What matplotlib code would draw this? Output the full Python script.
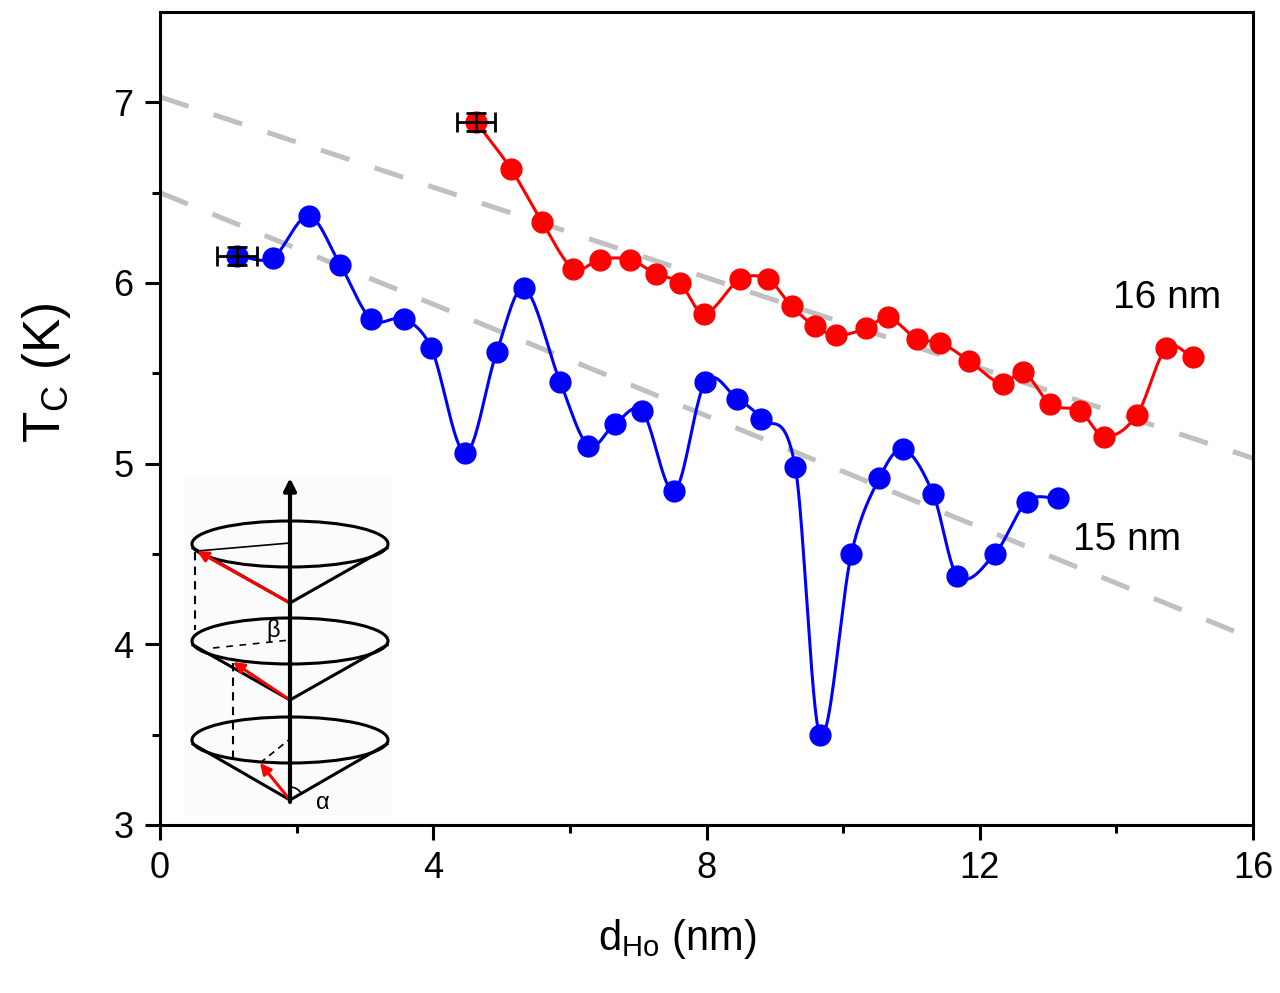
import numpy as np
import matplotlib
matplotlib.use('Agg')
import matplotlib.pyplot as plt
from matplotlib.patches import Ellipse, Arc

plt.rcParams['font.family'] = ['Liberation Sans', 'DejaVu Sans']
plt.rcParams['mathtext.fontset'] = 'custom'
plt.rcParams['mathtext.rm'] = 'Liberation Sans'
plt.rcParams['mathtext.it'] = 'Liberation Sans:italic'

# 15 nm series (blue)
d_15 = [1.13, 1.65, 2.18, 2.64, 3.09, 3.57, 3.97, 4.47, 4.93, 5.33, 5.86, 6.27, 6.66, 7.06,
        7.53, 7.98, 8.45, 8.80, 9.30, 9.66, 10.12, 10.53, 10.88, 11.32, 11.67, 12.22, 12.69, 13.15]
tc_15 = [6.15, 6.14, 6.37, 6.10, 5.80, 5.80, 5.64, 5.06, 5.62, 5.97, 5.45, 5.10, 5.22, 5.29,
         4.85, 5.45, 5.36, 5.25, 4.98, 3.50, 4.50, 4.92, 5.08, 4.83, 4.38, 4.50, 4.79, 4.81]

# 16 nm series (red)
d_16 = [4.63, 5.14, 5.59, 6.05, 6.44, 6.88, 7.26, 7.61, 7.96, 8.49, 8.90, 9.25, 9.59, 9.90,
        10.34, 10.66, 11.08, 11.42, 11.84, 12.34, 12.63, 13.03, 13.47, 13.82, 14.30, 14.73, 15.12]
tc_16 = [6.89, 6.63, 6.34, 6.08, 6.13, 6.13, 6.05, 6.00, 5.83, 6.02, 6.02, 5.87, 5.76, 5.71,
         5.75, 5.81, 5.69, 5.67, 5.57, 5.44, 5.51, 5.33, 5.29, 5.15, 5.27, 5.64, 5.59]

# error bars on the first point of each series
xerr_first = [0.29, 0.28]
yerr_first = [0.05, 0.05]

# gray dashed guide lines (end values at d = 0 and d = 16)
guide_x = [0, 16]
guide_upper = [7.03, 5.03]
guide_lower = [6.50, 4.03]

W, H = 1280, 993


def spline_line(x, y, n=40):
    # cardinal (Catmull-Rom style) Hermite curve through the points
    x = np.asarray(x, float)
    y = np.asarray(y, float)
    m = np.zeros_like(y)
    m[1:-1] = (y[2:] - y[:-2]) / (x[2:] - x[:-2])
    m[0] = (y[1] - y[0]) / (x[1] - x[0])
    m[-1] = (y[-1] - y[-2]) / (x[-1] - x[-2])
    xs, ys = [], []
    for i in range(len(x) - 1):
        h = x[i + 1] - x[i]
        t = np.linspace(0, 1, n)
        h00 = 2 * t**3 - 3 * t**2 + 1
        h10 = t**3 - 2 * t**2 + t
        h01 = -2 * t**3 + 3 * t**2
        h11 = t**3 - t**2
        xs.append(x[i] + t * h)
        ys.append(h00 * y[i] + h10 * h * m[i] + h01 * y[i + 1] + h11 * h * m[i + 1])
    return np.concatenate(xs), np.concatenate(ys)


fig = plt.figure(figsize=(W / 100, H / 100), dpi=100)
ax = fig.add_axes([160 / W, 1 - 825 / H, 1093 / W, 813 / H])

ax.plot(guide_x, guide_upper, color='#c0c0c0', lw=3.6, dashes=(6, 5.3), zorder=1)
ax.plot(guide_x, guide_lower, color='#c0c0c0', lw=3.6, dashes=(6, 5.3), zorder=1)

for d, tc, c in [(d_15, tc_15, '#0000ff'), (d_16, tc_16, '#ff0000')]:
    sx, sy = spline_line(d, tc)
    ax.plot(sx, sy, color=c, lw=2.2, zorder=2)
    ax.plot(d, tc, 'o', color=c, ms=15, zorder=3)

ax.errorbar([d_15[0], d_16[0]], [tc_15[0], tc_16[0]], xerr=xerr_first, yerr=yerr_first,
            fmt='none', ecolor='black', elinewidth=2, capsize=7, capthick=2, zorder=4)

fig.text(1113 / W, 1 - 298 / H, '16 nm', fontsize=28, va='center', ha='left')
fig.text(1073 / W, 1 - 540 / H, '15 nm', fontsize=28, va='center', ha='left')

ax.set_xlim(0, 16)
ax.set_ylim(3, 7.5)
ax.set_xticks([0, 4, 8, 12, 16])
ax.set_xticks([2, 6, 10, 14], minor=True)
ax.set_yticks([3, 4, 5, 6, 7])
ax.set_yticks([3.5, 4.5, 5.5, 6.5], minor=True)
ax.tick_params(which='both', direction='out', width=2.2, labelsize=26, top=False, right=False)
ax.tick_params(which='major', length=11, pad=8)
ax.tick_params(which='minor', length=5.5)
for s in ax.spines.values():
    s.set_linewidth(2.2)

ax.set_xlabel(r'd$_\mathrm{Ho}$ (nm)', fontsize=30)
ax.set_ylabel(r'T$_\mathrm{C}$ (K)', fontsize=37)
ax.xaxis.set_label_coords(0.473, -0.113)
ax.yaxis.set_label_coords(-0.08, 0.557)

# inset schematic of the conical spin structure (drawn in pixel-like units)
ins = fig.add_axes([185 / W, 1 - 815 / H, 207 / W, 340 / H])
ins.set_xlim(185, 392)
ins.set_ylim(815, 475)
ins.set_facecolor('#fbfbfb')
ins.set_xticks([])
ins.set_yticks([])
for s in ins.spines.values():
    s.set_visible(False)

cx = 290
levels = [(544, 603, (197, 551)), (641, 700, (233, 662)), (740, 800, (260, 763))]
for cy, apex, tip in levels:
    ins.add_patch(Ellipse((cx, cy), 196, 46, fill=False, lw=2.2, ec='black'))
    ins.plot([cx - 97, cx, cx + 97], [cy + 4, apex, cy + 4], color='black', lw=2.2)
    ins.annotate('', xy=tip, xytext=(cx, apex),
                 arrowprops=dict(arrowstyle='-|>', color='#ff0000', lw=2.2, mutation_scale=16,
                                 shrinkA=0, shrinkB=0))

ins.plot([197, cx], [551, 543], color='black', lw=1.2)
ins.plot([213, cx], [648, 640], color='black', lw=1.2, dashes=(4, 4))
ins.plot([260, cx], [763, 739], color='black', lw=1.2, dashes=(4, 3))
ins.plot([195, 195], [552, 630], color='black', lw=1.5, dashes=(4, 3))
ins.plot([233, 233], [663, 760], color='black', lw=1.5, dashes=(4, 3))
ins.annotate('', xy=(cx, 478), xytext=(cx, 802),
             arrowprops=dict(arrowstyle='-|>', color='black', lw=3, mutation_scale=18,
                             shrinkA=0, shrinkB=0))
ins.add_patch(Arc((cx, 800), 26, 26, theta1=270, theta2=330, lw=1.2, color='black'))
ins.text(273, 630, 'β', fontsize=17, ha='center', va='center')
ins.text(323, 803, 'α', fontsize=17, ha='center', va='center')

fig.savefig('out.png', dpi=100)
